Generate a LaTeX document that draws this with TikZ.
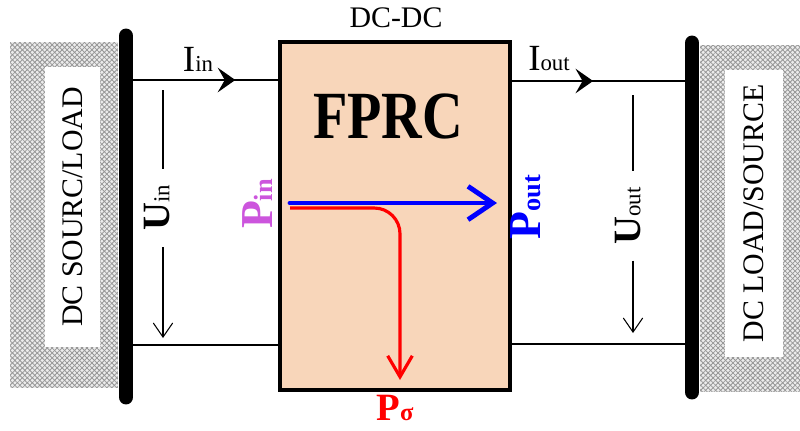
\documentclass[tikz,border=0pt]{standalone}
\usepackage{fontspec}
\setmainfont{Liberation Serif}
\usetikzlibrary{arrows.meta,positioning,patterns.meta,decorations.markings}
\definecolor{peach}{RGB}{248,214,186}
\definecolor{violetpin}{RGB}{204,85,221}
\definecolor{hatchgray}{RGB}{150,150,150}

\begin{document}
\begin{tikzpicture}[
    x=0.02cm, y=-0.02cm,
    hatchbox/.style={draw=none, inner sep=0pt, preaction={fill=gray!15},
        preaction={pattern={Lines[angle=45,distance=2pt,line width=0.45pt]}, pattern color=hatchgray},
        pattern={Lines[angle=-45,distance=2pt,line width=0.45pt]}, pattern color=hatchgray},
    plate/.style={fill=white, inner sep=0pt, rotate=90, font=\fontsize{17}{18}\selectfont},
    conv/.style={draw, line width=2.5pt, fill=peach, minimum width=4.6cm, minimum height=6.96cm, inner sep=0pt},
    bus/.style={line width=8.5pt, line cap=round},
    wire/.style={line width=1.1pt},
    curr/.style={wire, postaction={decorate},
        decoration={markings, mark=at position #1 with {\arrow{Stealth[length=10pt,width=14pt,inset=4pt]}}}},
    volt/.style={line width=0.6pt},
    vtip/.style={volt, -{Straight Barb[length=8pt,width=11pt]}},
    vlab/.style={rotate=90, inner xsep=9pt, inner ysep=0pt, font=\bfseries},
    flow/.style={line width=2.8pt, blue, line cap=round, -{Straight Barb[length=14pt,width=19pt]}},
    loss/.style={line width=1.8pt, red, rounded corners=14.7pt, -{Straight Barb[length=12pt,width=14pt]}},
    plab/.style={font=\bfseries, inner sep=0pt}
]
\useasboundingbox (0,0) rectangle (800,430);

% source and load sides
\node[hatchbox, minimum width=2.16cm, minimum height=6.92cm] (srcL) at (64,215) {};
\node[plate, minimum width=5.6cm, minimum height=1.1cm] (plateL) at (72.5,207) {DC SOURC/LOAD};
\node[hatchbox, minimum width=2cm, minimum height=6.94cm] (srcR) at (750,218.5) {};
\node[plate, minimum width=5.74cm, minimum height=1.16cm] (plateR) at (754,213.5) {DC LOAD/SOURCE};

% converter
\node[conv] (fprc) at (395,216) {};
\node[font=\fontsize{32}{34}\selectfont\bfseries] (title) at (388,116) {\scalebox{1}[1.2]{FPRC}};
\node[font=\fontsize{17}{18}\selectfont] (dcdc) at (396,18) {DC-DC};

\coordinate (inTop) at (126,80);
\coordinate (inBot) at (126,345);
\coordinate (outTop) at (692,81);
\coordinate (outBot) at (692,344);

\draw[curr=0.72] (inTop) -- (inTop -| fprc.west);
\draw[wire] (inBot) -- (inBot -| fprc.west);
\draw[curr=0.45] (outTop -| fprc.east) -- (outTop);
\draw[wire] (outBot -| fprc.east) -- (outBot);

% buses
\coordinate (busLa) at (126,36);
\coordinate (busLb) at (126,397);
\coordinate (busRa) at (692,43);
\coordinate (busRb) at (692,392);
\draw[bus] (busLa) -- (busLb);
\draw[bus] (busRa) -- (busRb);

% currents and voltages
\node (iin) at (198,59) {\fontsize{21}{22}\selectfont I\fontsize{13}{13}\selectfont in};
\node (iout) at (549,59) {\fontsize{21}{22}\selectfont I\fontsize{13}{13}\selectfont out};

\node[vlab] (uin) at (157,208) {\fontsize{22}{22}\selectfont U{\mdseries\fontsize{13}{13}\selectfont in}};
\coordinate (uinA) at (163,90);
\coordinate (uinB) at (163,338);
\draw[volt] (uinA) -- (uinA |- uin.east);
\draw[vtip] (uinA |- uin.west) -- (uinB);

\node[vlab] (uout) at (628,216) {\fontsize{22}{22}\selectfont U{\mdseries\fontsize{13}{13}\selectfont out}};
\coordinate (uoutA) at (633,95);
\coordinate (uoutB) at (633,333);
\draw[volt] (uoutA) -- (uoutA |- uout.east);
\draw[vtip] (uoutA |- uout.west) -- (uoutB);

% power flow
\node[plab, text=violetpin, rotate=90] (pin) at (258,204) {\fontsize{26}{26}\selectfont P\fontsize{15}{15}\selectfont in};
\node[plab, text=blue, rotate=90] (pout) at (526,207) {\fontsize{26}{26}\selectfont P\fontsize{15}{15}\selectfont out};
\node[plab, text=red] (psig) at (395,408) {\fontsize{22}{22}\selectfont P\fontsize{14}{14}\selectfont σ};

\coordinate (flowA) at (290,203);
\coordinate (flowB) at (497,203);
\coordinate (lossA) at (290,208);
\coordinate (lossB) at (400,380);
\draw[loss] (lossA) -| (lossB);
\draw[flow] (flowA) -- (flowB);
\end{tikzpicture}
\end{document}
